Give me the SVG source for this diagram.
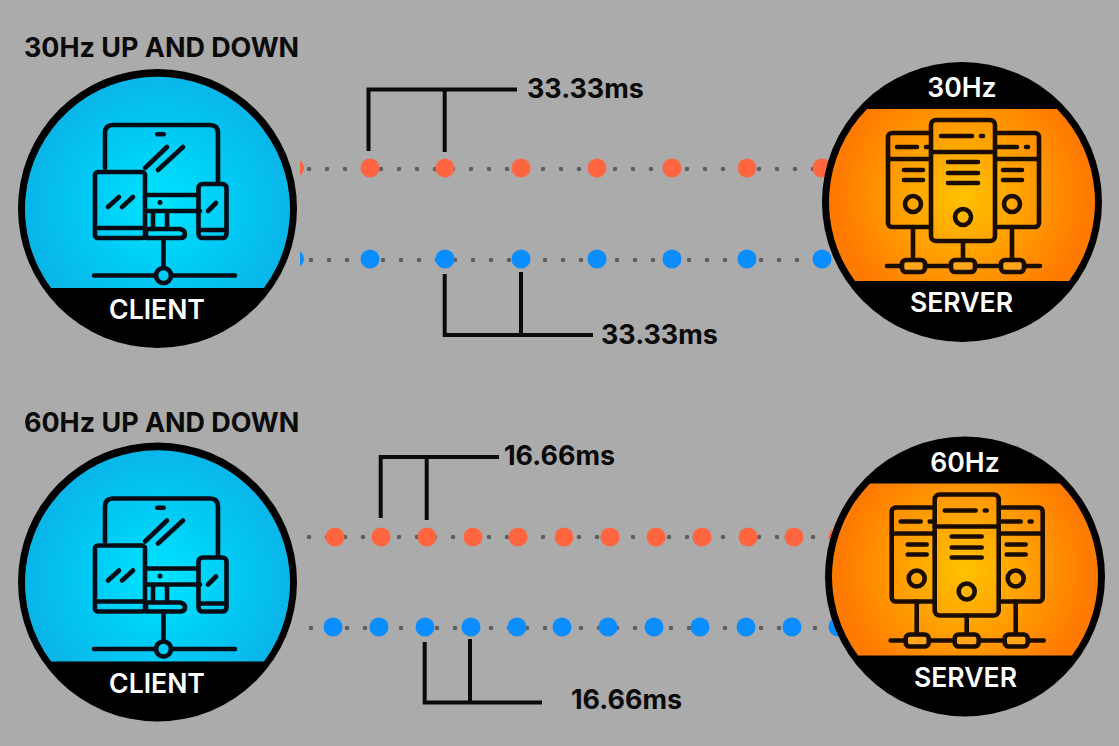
<svg xmlns="http://www.w3.org/2000/svg" width="1119" height="746" viewBox="0 0 1119 746">
<style>
text{font-family:Inter,"Liberation Sans",sans-serif;font-weight:700}
.title{font-size:26.900px;fill:#0a0a0a}
.val{font-size:26.900px;fill:#0a0a0a}
.lab{font-size:26.600px;font-weight:600;fill:#fff;text-anchor:middle}
.ic{fill:none;stroke:#040c16;stroke-width:4.600;stroke-linecap:round;stroke-linejoin:round}
.ics{stroke:#1a0d00;stroke-width:4.600;stroke-linecap:round;stroke-linejoin:round;fill:none}
.br{fill:none;stroke:#0a0a0a;stroke-width:4}
.gr{fill:none;stroke:#5e5e5e;stroke-width:4.500;stroke-linecap:round;stroke-dasharray:0 18}
.r{fill:#ff6640}
.b{fill:#0a8eff}
</style>
<defs>
<radialGradient id="cg" gradientUnits="userSpaceOnUse" cx="160" cy="205" r="132">
<stop offset="0" stop-color="#00e4ff"/><stop offset=".5" stop-color="#00ccf5"/><stop offset="1" stop-color="#0ab5e8"/>
</radialGradient>
<radialGradient id="sg" gradientUnits="userSpaceOnUse" cx="962" cy="195" r="125">
<stop offset="0" stop-color="#ffc200"/><stop offset=".55" stop-color="#ff9c00"/><stop offset="1" stop-color="#ff7a00"/>
</radialGradient>
<clipPath id="edge"><rect x="300" y="140" width="20" height="140"/></clipPath>
<g id="clientIcon">
<path class="ic" d="M105 168V133Q105 125 113 125H210Q218 125 218 133V183"/>
<path class="ic" d="M145 168L167 147M158 170L183 147"/>
<rect x="155" y="132" width="11" height="4.500" rx="2.200" fill="#040c16"/>
<path class="ic" d="M147 195H198M147 211H200M153 211V229M167 211V229"/>
<circle cx="160" cy="202.500" r="2.500" fill="#040c16"/>
<rect class="ic" x="95" y="172" width="50" height="66" rx="3"/>
<path class="ic" d="M95 228H145M146 229H180Q185 230 185 234Q185 238 180 238H146Z"/>
<path class="ic" d="M108 207L119 197M122 207L133 197"/>
<rect class="ic" x="198.500" y="184" width="28" height="54" rx="4"/>
<path class="ic" d="M199 230H226M208 211L216 203"/>
<path class="ic" d="M163.500 238V268M94 275.500H156M171 275.500H235"/>
<circle class="ic" cx="163.500" cy="275.500" r="7.500"/>
</g>
<g id="serverIcon">
<rect class="ics" x="888" y="133" width="60" height="94" rx="4"/>
<rect class="ics" x="978" y="133" width="61" height="94" rx="4"/>
<path class="ics" d="M888 159H935M990 159H1039M897 147H917M926 147H930M997 147H1017M1026 147H1028M904 170H923M904 180H923M1003 170H1022M1003 180H1022"/>
<circle class="ics" cx="913" cy="204" r="8"/>
<circle class="ics" cx="1012" cy="204" r="8"/>
<rect x="931" y="120" width="64" height="121" rx="5" fill="url(#sg)" stroke="#1a0d00" stroke-width="4.600"/>
<path class="ics" d="M931 152H995M941 136H972M981 136H983M948 162H978M948 173H978M948 183H978"/>
<circle class="ics" cx="963" cy="217" r="8"/>
<path class="ics" d="M913 227V260M963 241V260M1012 227V260M887 266H902M925 266H951M975 266H1001M1024 266H1040"/>
<rect x="902" y="260" width="23" height="12" rx="4" fill="#ffa61a" stroke="#1a0d00" stroke-width="4.600"/>
<rect x="951" y="260" width="24" height="12" rx="4" fill="#ffa61a" stroke="#1a0d00" stroke-width="4.600"/>
<rect x="1001" y="260" width="23" height="12" rx="4" fill="#ffa61a" stroke="#1a0d00" stroke-width="4.600"/>
</g>
<g id="clientBase">
<circle cx="157.500" cy="208.500" r="139.500" fill="#000"/>
<path d="M51 288A132.500 132.500 0 1 1 264 288Z" fill="url(#cg)"/>
</g>
<g id="serverBase">
<circle cx="962" cy="202" r="140" fill="#000"/>
<path d="M867 109H1057A133 133 0 0 1 1069 281H855A133 133 0 0 1 867 109Z" fill="url(#sg)"/>
</g>
</defs>
<rect width="1119" height="746" fill="#ababab"/>
<text class="title" x="24" y="57">30Hz UP AND DOWN</text>
<text class="title" x="24" y="432">60Hz UP AND DOWN</text>
<g id="connectors">
<path class="gr" d="M309 169H830"/>
<path class="gr" d="M311 260H830"/>
<path class="gr" d="M309 537H832"/>
<path class="gr" d="M311 628H832"/>
<g id="row30up">
<circle class="r" cx="295" cy="168" r="9" clip-path="url(#edge)"/>
<circle class="r" cx="370" cy="168" r="9.500"/><circle class="r" cx="445" cy="168" r="9.500"/><circle class="r" cx="521" cy="168" r="9.500"/><circle class="r" cx="597" cy="168" r="9.500"/><circle class="r" cx="672" cy="168" r="9.500"/><circle class="r" cx="747" cy="168" r="9.500"/><circle class="r" cx="822" cy="168" r="9.500"/>
</g>
<g id="row30down">
<circle class="b" cx="295" cy="259" r="9" clip-path="url(#edge)"/>
<circle class="b" cx="370" cy="259" r="9.500"/><circle class="b" cx="445" cy="259" r="9.500"/><circle class="b" cx="521" cy="259" r="9.500"/><circle class="b" cx="597" cy="259" r="9.500"/><circle class="b" cx="672" cy="259" r="9.500"/><circle class="b" cx="747" cy="259" r="9.500"/><circle class="b" cx="822" cy="259" r="9.500"/>
</g>
<g id="row60up">
<circle class="r" cx="335" cy="537" r="9.500"/><circle class="r" cx="381" cy="537" r="9.500"/><circle class="r" cx="427" cy="537" r="9.500"/><circle class="r" cx="473" cy="537" r="9.500"/><circle class="r" cx="518" cy="537" r="9.500"/><circle class="r" cx="564" cy="537" r="9.500"/><circle class="r" cx="610" cy="537" r="9.500"/><circle class="r" cx="656" cy="537" r="9.500"/><circle class="r" cx="702" cy="537" r="9.500"/><circle class="r" cx="748" cy="537" r="9.500"/><circle class="r" cx="794" cy="537" r="9.500"/><circle class="r" cx="838" cy="537" r="9.500"/>
</g>
<g id="row60down">
<circle class="b" cx="333" cy="627" r="9.500"/><circle class="b" cx="379" cy="627" r="9.500"/><circle class="b" cx="425" cy="627" r="9.500"/><circle class="b" cx="471" cy="627" r="9.500"/><circle class="b" cx="517" cy="627" r="9.500"/><circle class="b" cx="562" cy="627" r="9.500"/><circle class="b" cx="608" cy="627" r="9.500"/><circle class="b" cx="654" cy="627" r="9.500"/><circle class="b" cx="700" cy="627" r="9.500"/><circle class="b" cx="746" cy="627" r="9.500"/><circle class="b" cx="792" cy="627" r="9.500"/><circle class="b" cx="838" cy="627" r="9.500"/>
</g>
<path class="br" d="M368.500 151V89.500H517M444.700 89.500V152"/>
<path class="br" d="M444.700 274V335H593M521 272V335"/>
<path class="br" d="M380.700 518V457H499M426.700 457V520"/>
<path class="br" d="M424.700 642V702.500H542M470 639V702.500"/>
</g>
<text class="val" x="527" y="98">33.33ms</text>
<text class="val" x="601" y="344">33.33ms</text>
<text class="val" x="504" y="465">16.66ms</text>
<text class="val" x="571" y="709">16.66ms</text>
<g id="client30">
<use href="#clientBase"/>
<use href="#clientIcon"/>
<text class="lab" x="157" y="319">CLIENT</text>
</g>
<g id="client60">
<g transform="translate(0 373.500)"><use href="#clientBase"/><use href="#clientIcon"/></g>
<text class="lab" x="157" y="692.500">CLIENT</text>
</g>
<g id="server30">
<use href="#serverBase"/>
<use href="#serverIcon"/>
<text class="lab" x="962" y="97">30Hz</text>
<text class="lab" x="961.500" y="312">SERVER</text>
</g>
<g id="server60">
<g transform="translate(3 374.500)"><use href="#serverBase"/><use href="#serverIcon" x="0.700"/></g>
<text class="lab" x="965" y="471.500">60Hz</text>
<text class="lab" x="965.500" y="686.500">SERVER</text>
</g>
</svg>
